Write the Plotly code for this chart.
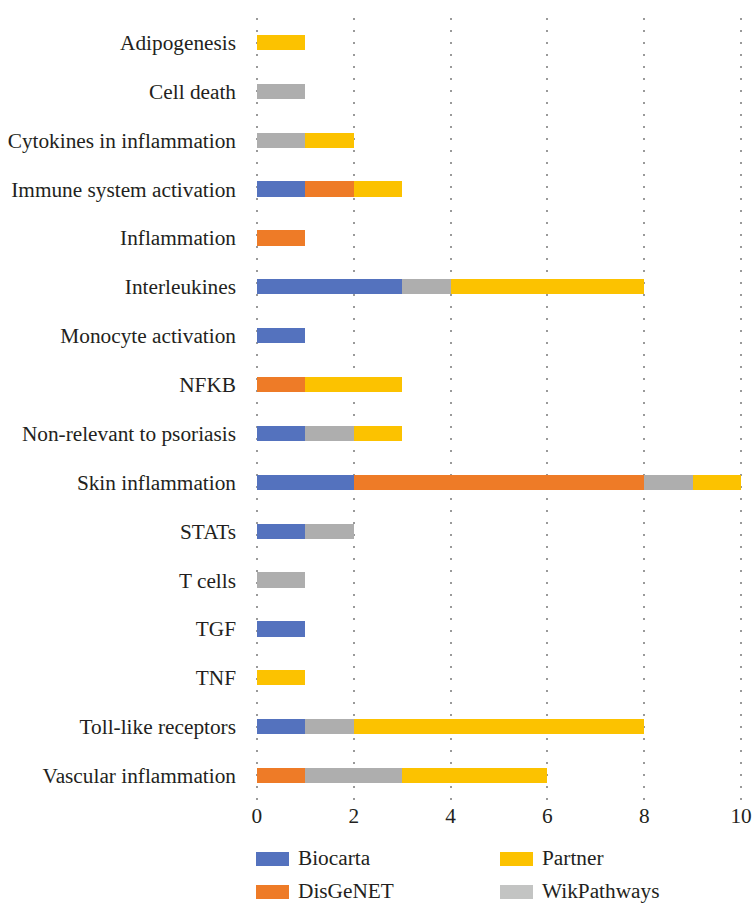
import plotly.graph_objects as go

categories = ["Adipogenesis", "Cell death", "Cytokines in inflammation", "Immune system activation",
              "Inflammation", "Interleukines", "Monocyte activation", "NFKB",
              "Non-relevant to psoriasis", "Skin inflammation", "STATs", "T cells",
              "TGF", "TNF", "Toll-like receptors", "Vascular inflammation"]
biocarta    = [0, 0, 0, 1, 0, 3, 1, 0, 1, 2, 1, 0, 1, 0, 1, 0]
disgenet    = [0, 0, 0, 1, 1, 0, 0, 1, 0, 6, 0, 0, 0, 0, 0, 1]
wikpathways = [0, 1, 1, 0, 0, 1, 0, 0, 1, 1, 1, 1, 0, 0, 1, 2]
partner     = [1, 0, 1, 1, 0, 4, 0, 2, 1, 1, 0, 0, 0, 1, 6, 3]
x_ticks = [0, 2, 4, 6, 8, 10]

series = [
    ("Biocarta", biocarta, "#5472BE", "#5472BE"),
    ("DisGeNET", disgenet, "#EE7B27", "#EE7B27"),
    ("WikPathways", wikpathways, "#AEAEAE", "#C3C4C3"),
    ("Partner", partner, "#FCC200", "#FCC200"),
]

W, H = 753, 903
L, R, T, B = 254, 9, 18, 103
FONT = "Liberation Serif"
TXT = "#231F20"
FS = 21.3

fig = go.Figure()
for name, vals, color, _ in series:
    fig.add_trace(go.Bar(y=categories, x=vals, name=name, orientation="h",
                         marker=dict(color=color, line=dict(width=0)),
                         showlegend=False))

# legend drawn manually (wide rectangular swatches, 2 columns)
pw, ph = W - L - R, H - T - B
def px(x):
    return (x - L) / pw
def py(y):
    return (H - B - y) / ph

legend_pos = {"Biocarta": (256, 852), "Partner": (500, 852),
              "DisGeNET": (256, 885), "WikPathways": (500, 885)}
shapes, annots = [], []
for name, _, _, lc in series:
    x0, y0 = legend_pos[name]
    shapes.append(dict(type="rect", xref="paper", yref="paper",
                       x0=px(x0), x1=px(x0 + 33), y0=py(y0 + 14), y1=py(y0),
                       fillcolor=lc, line=dict(width=0)))
    annots.append(dict(xref="paper", yref="paper", x=px(x0 + 40), y=py(y0 + 6),
                       xanchor="left", yanchor="middle", text=name, showarrow=False,
                       font=dict(family=FONT, size=FS, color=TXT)))

fig.update_layout(
    barmode="stack",
    bargap=0.69,
    width=W, height=H,
    margin=dict(l=L, r=R, t=T, b=B, autoexpand=False),
    paper_bgcolor="white", plot_bgcolor="white",
    font=dict(family=FONT, size=FS, color=TXT),
    showlegend=False,
    shapes=shapes, annotations=annots,
)
fig.update_xaxes(range=[-0.06, 10.06], tickvals=x_ticks, showgrid=True, gridcolor="#9A9A9A",
                 griddash="2px,10px", gridwidth=1.5, zeroline=False, showline=False,
                 ticks="", ticklabelstandoff=1, automargin=False)
fig.update_yaxes(autorange="reversed", showgrid=False, zeroline=False, showline=False,
                 ticks="", ticklabelstandoff=17, automargin=False)

fig.write_html("out.html", config={"displayModeBar": False},
               post_script="document.body.style.margin='0';document.body.style.padding='0';")
